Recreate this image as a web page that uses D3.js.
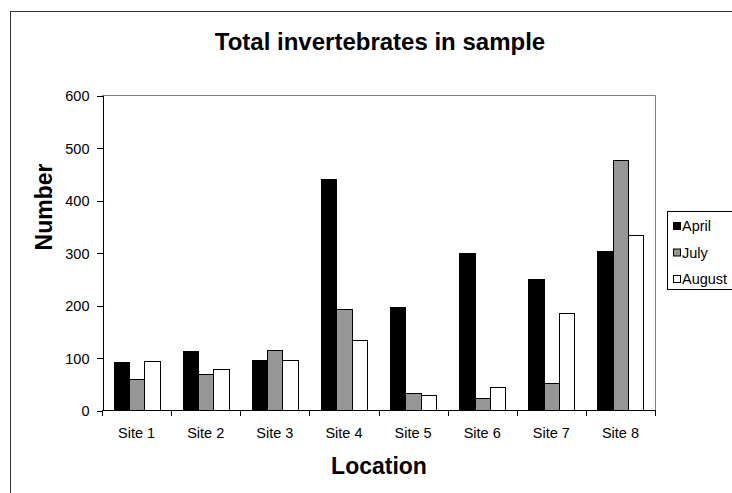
<!DOCTYPE html>
<html>
<head>
<meta charset="utf-8">
<script src="https://cdn.jsdelivr.net/npm/d3@7"></script>
<style>
  body { margin: 0; background: #fff; }
  svg { display: block; font-family: "Liberation Sans", Arial, sans-serif; }
  .axis path, .axis line { stroke: #000; shape-rendering: crispEdges; }
  .axis text { font-size: 14.5px; fill: #000; }
  .bar { stroke: #000; stroke-width: 1; shape-rendering: crispEdges; }
</style>
</head>
<body>
<svg id="chart" width="732" height="493"></svg>
<script>
const sites = ["Site 1", "Site 2", "Site 3", "Site 4", "Site 5", "Site 6", "Site 7", "Site 8"];
const series = ["April", "July", "August"];
const april = [92, 112, 96, 440, 196, 300, 249, 302];
const july = [59, 68, 114, 193, 32, 22, 51, 477];
const august = [93, 79, 96, 133, 29, 43, 184, 333];
const yTicks = [0, 100, 200, 300, 400, 500, 600];

const values = { April: april, July: july, August: august };
const colors = { April: "#000000", July: "#969696", August: "#ffffff" };

const plot = { left: 102, right: 655, top: 95, bottom: 410 };

const svg = d3.select("#chart");

// chart area border (runs off the picture on right and bottom)
svg.append("rect")
  .attr("x", 10.5).attr("y", 11.5)
  .attr("width", 900).attr("height", 700)
  .attr("fill", "#fff").attr("stroke", "#333");

const x0 = d3.scaleBand().domain(sites).range([plot.left, plot.right]).padding(0);
const bw = x0.bandwidth();
const x1 = d3.scaleBand().domain(series).range([bw / 6, bw * 5 / 6]).padding(0);
const y = d3.scaleLinear().domain([0, 600]).range([plot.bottom, plot.top]);

// plot area frame (gray top and right)
svg.append("path")
  .attr("d", `M${plot.left},${plot.top + 0.5}H${plot.right + 0.5}V${plot.bottom}`)
  .attr("fill", "none").attr("stroke", "#808080");

// bars
const groups = svg.append("g").selectAll("g")
  .data(sites)
  .enter().append("g")
  .attr("transform", d => "translate(" + x0(d) + ",0)");

groups.selectAll("rect")
  .data((d, i) => series.map(s => ({ s: s, v: values[s][i] })))
  .enter().append("rect")
  .attr("class", "bar")
  .attr("x", d => x1(d.s) + 0.5)
  .attr("y", d => y(d.v) + 0.5)
  .attr("width", x1.bandwidth())
  .attr("height", d => y(0) - y(d.v))
  .attr("fill", d => colors[d.s]);

// y axis
const yAxis = svg.append("g")
  .attr("class", "axis")
  .attr("transform", "translate(" + (plot.left + 0.5) + ",0.5)")
  .call(d3.axisLeft(y).tickValues(yTicks).tickSize(6).tickPadding(7).tickSizeOuter(0));
yAxis.selectAll("text").attr("dy", "0.36em");

// x axis: ticks on category boundaries
const xAxis = svg.append("g")
  .attr("class", "axis")
  .attr("transform", "translate(0," + (plot.bottom + 0.5) + ")");
xAxis.append("line")
  .attr("x1", plot.left).attr("x2", plot.right + 1);
xAxis.selectAll(".tk")
  .data(sites.concat(["end"]))
  .enter().append("line")
  .attr("class", "tk")
  .attr("x1", (d, i) => Math.round(plot.left + i * bw) + 0.5)
  .attr("x2", (d, i) => Math.round(plot.left + i * bw) + 0.5)
  .attr("y1", 0).attr("y2", 5);
xAxis.selectAll(".lbl")
  .data(sites)
  .enter().append("text")
  .attr("class", "lbl")
  .attr("x", d => x0(d) + bw / 2)
  .attr("y", 27)
  .attr("text-anchor", "middle")
  .text(d => d);

// titles
svg.append("text")
  .attr("x", 380).attr("y", 50)
  .attr("text-anchor", "middle")
  .style("font-size", "24px").style("font-weight", "bold")
  .text("Total invertebrates in sample");

svg.append("text")
  .attr("x", 379).attr("y", 474)
  .attr("text-anchor", "middle")
  .style("font-size", "23px").style("font-weight", "bold")
  .text("Location");

svg.append("text")
  .attr("transform", "translate(52,207) rotate(-90)")
  .attr("text-anchor", "middle")
  .style("font-size", "23px").style("font-weight", "bold")
  .text("Number");

// legend
const legend = svg.append("g").attr("transform", "translate(667,211)");
legend.append("rect")
  .attr("x", 0.5).attr("y", 0.5)
  .attr("width", 80).attr("height", 78)
  .attr("fill", "#fff").attr("stroke", "#000");

const item = legend.selectAll(".item")
  .data(series)
  .enter().append("g")
  .attr("class", "item")
  .attr("transform", (d, i) => "translate(0," + (15 + i * 26.5) + ")");

item.append("rect")
  .attr("x", 6.5).attr("y", -3.5)
  .attr("width", 7).attr("height", 7)
  .attr("fill", d => colors[d])
  .attr("stroke", "#000");

item.append("text")
  .attr("x", 15).attr("y", 0)
  .attr("dy", "0.36em")
  .style("font-size", "14.5px")
  .text(d => d);
</script>
</body>
</html>
